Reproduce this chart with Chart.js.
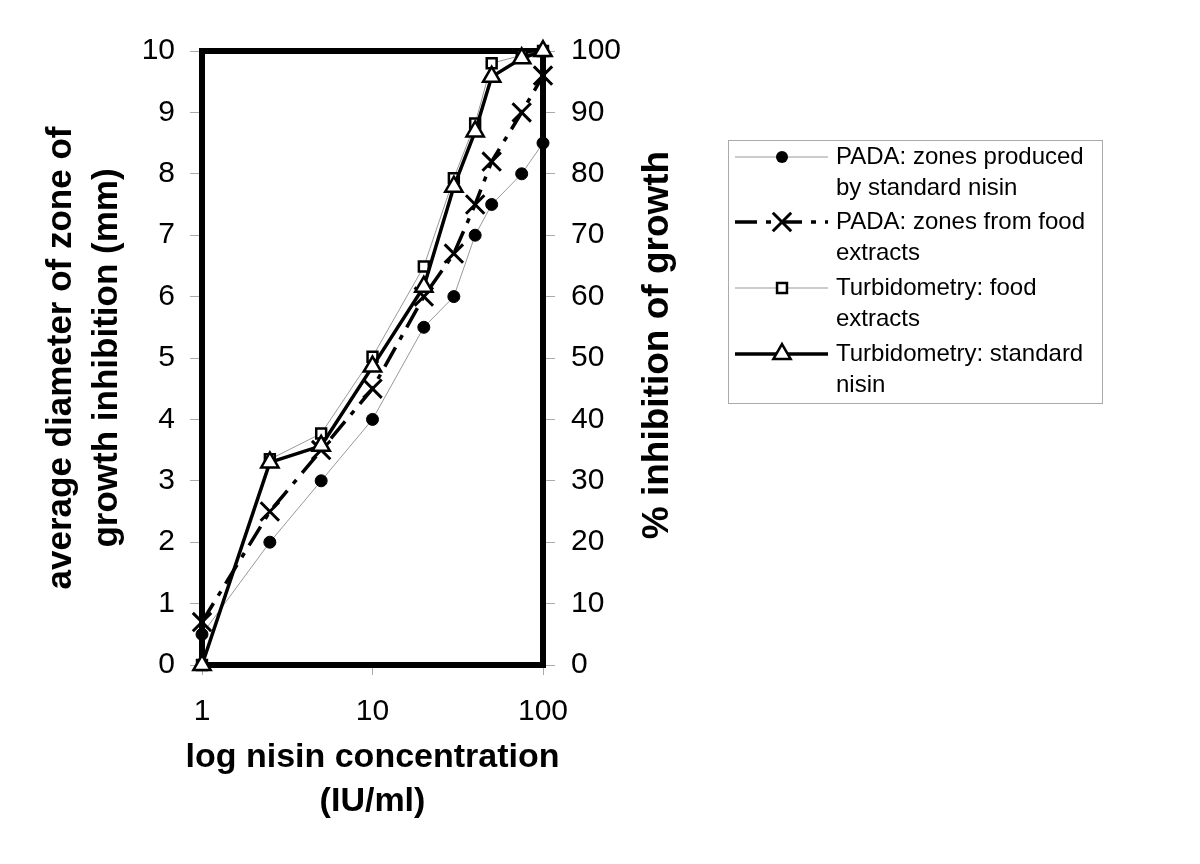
<!DOCTYPE html>
<html>
<head>
<meta charset="utf-8">
<script src="https://cdn.jsdelivr.net/npm/chart.js@4/dist/chart.umd.min.js"></script>
<style>
  html, body { margin: 0; padding: 0; background: #fff; }
  #wrap { width: 1200px; height: 864px; }
</style>
</head>
<body>
<div id="wrap"><canvas id="nisinChart" width="1200" height="864"></canvas></div>
<script>
const FONT = 'Arial, "Liberation Sans", Helvetica, sans-serif';

// nisin concentration (IU/ml)
const concentrations = [1, 2.5, 5, 10, 20, 30, 40, 50, 75, 100];
const xTickValues = [1, 10, 100];

// left axis: zone diameter (mm)
const padaStandard = [0.5, 2, 3, 4, 5.5, 6, 7, 7.5, 8, 8.5];
const padaFood = [0.7, 2.5, 3.5, 4.5, 6, 6.7, 7.5, 8.2, 9, 9.6];

// right axis: % inhibition of growth
const turbFood = [0, 33.5, 37.7, 50.2, 64.9, 79.3, 88.2, 98, 99.3, 100];
const turbStandard = [0, 33, 35.7, 48.6, 61.6, 77.9, 86.9, 95.8, 98.8, 100];

const seriesNames = [
    ['PADA: zones produced', 'by standard nisin'],
    ['PADA: zones from food', 'extracts'],
    ['Turbidometry: food', 'extracts'],
    ['Turbidometry: standard', 'nisin']
];
const xTitle = ['log nisin concentration', '(IU/ml)'];
const y2Title = '% inhibition of growth';

const toPoints = vals => vals.map((v, i) => ({ x: concentrations[i], y: v }));

const data = {
    datasets: [
        {
            label: seriesNames[0].join(' '),
            data: toPoints(padaStandard),
            yAxisID: 'y',
            borderColor: '#999',
            borderWidth: 1,
            pointStyle: 'circle',
            pointRadius: 6,
            pointBackgroundColor: '#000',
            pointBorderColor: '#000',
            pointBorderWidth: 1,
            order: 3
        },
        {
            label: seriesNames[1].join(' '),
            data: toPoints(padaFood),
            yAxisID: 'y',
            borderColor: '#000',
            borderWidth: 3.5,
            borderDash: [22, 9, 5, 9],
            pointStyle: 'crossRot',
            pointRadius: 13,
            pointBorderColor: '#000',
            pointBorderWidth: 3,
            order: 2
        },
        {
            label: seriesNames[2].join(' '),
            data: toPoints(turbFood),
            yAxisID: 'y2',
            borderColor: '#999',
            borderWidth: 1,
            pointStyle: 'rect',
            pointRadius: 7,
            pointBackgroundColor: '#fff',
            pointBorderColor: '#000',
            pointBorderWidth: 2.5,
            order: 1
        },
        {
            label: seriesNames[3].join(' '),
            data: toPoints(turbStandard),
            yAxisID: 'y2',
            borderColor: '#000',
            borderWidth: 3.5,
            pointStyle: 'triangle',
            pointRadius: 10,
            pointBackgroundColor: '#fff',
            pointBorderColor: '#000',
            pointBorderWidth: 2.5,
            order: 0
        }
    ]
};

// thick black frame round the plot area
const framePlugin = {
    id: 'frame',
    beforeDatasetsDraw(chart) {
        const { ctx, chartArea: a } = chart;
        ctx.save();
        ctx.strokeStyle = '#000';
        ctx.lineWidth = 6;
        ctx.strokeRect(a.left, a.top, a.right - a.left, a.bottom - a.top);
        ctx.restore();
    }
};

// x title (wider than the plot), right title reading bottom-to-top, boxed legend
const extrasPlugin = {
    id: 'extras',
    afterDraw(chart) {
        const ctx = chart.ctx;
        const a = chart.chartArea;
        ctx.save();
        ctx.fillStyle = '#000';
        ctx.font = 'bold 34px ' + FONT;
        ctx.textAlign = 'center';
        ctx.textBaseline = 'middle';
        const cx = (a.left + a.right) / 2;
        ctx.fillText(xTitle[0], cx, 758);
        ctx.fillText(xTitle[1], cx, 802);

        ctx.font = 'bold 37px ' + FONT;
        ctx.translate(658, 345);
        ctx.rotate(-Math.PI / 2);
        ctx.fillText(y2Title, 0, 0);
        ctx.restore();

        // legend box
        ctx.save();
        ctx.strokeStyle = '#aaa';
        ctx.lineWidth = 1;
        ctx.strokeRect(728.5, 140.5, 374, 263);
        ctx.font = '24px ' + FONT;
        ctx.textBaseline = 'middle';
        ctx.fillStyle = '#000';
        const rowY = [157, 222, 288, 354];
        chart.data.datasets.forEach((ds, i) => {
            const y = rowY[i];
            ctx.save();
            ctx.strokeStyle = ds.borderColor;
            ctx.lineWidth = ds.borderWidth;
            ctx.setLineDash(ds.borderDash || []);
            ctx.beginPath();
            ctx.moveTo(735, y);
            ctx.lineTo(828, y);
            ctx.stroke();
            ctx.restore();
            drawMarker(ctx, ds, 782, y);
            ctx.fillText(seriesNames[i][0], 836, y);
            ctx.fillText(seriesNames[i][1], 836, y + 31);
        });
        ctx.restore();
    }
};

function drawMarker(ctx, ds, x, y) {
    const r = ds.pointRadius;
    ctx.save();
    ctx.setLineDash([]);
    ctx.lineWidth = ds.pointBorderWidth;
    ctx.strokeStyle = ds.pointBorderColor;
    ctx.fillStyle = ds.pointBackgroundColor || '#fff';
    ctx.beginPath();
    if (ds.pointStyle === 'circle') {
        ctx.arc(x, y, r, 0, Math.PI * 2);
        ctx.fill();
    } else if (ds.pointStyle === 'crossRot') {
        const d = r * Math.SQRT1_2;
        ctx.moveTo(x - d, y - d); ctx.lineTo(x + d, y + d);
        ctx.moveTo(x - d, y + d); ctx.lineTo(x + d, y - d);
        ctx.stroke();
    } else if (ds.pointStyle === 'rect') {
        const s = r * Math.SQRT1_2;
        ctx.rect(x - s, y - s, 2 * s, 2 * s);
        ctx.fill(); ctx.stroke();
    } else if (ds.pointStyle === 'triangle') {
        ctx.moveTo(x, y - r);
        ctx.lineTo(x + r * 0.866, y + r * 0.5);
        ctx.lineTo(x - r * 0.866, y + r * 0.5);
        ctx.closePath();
        ctx.fill(); ctx.stroke();
    }
    ctx.restore();
}

const config = {
    type: 'line',
    data: data,
    options: {
        responsive: false,
        animation: false,
        clip: false,
        layout: { padding: { top: 51, right: 517, bottom: 0, left: 0 } },
        plugins: {
            legend: { display: false },
            tooltip: { enabled: false }
        },
        scales: {
            x: {
                type: 'logarithmic',
                min: 1,
                max: 100,
                afterBuildTicks: scale => { scale.ticks = xTickValues.map(v => ({ value: v })); },
                afterFit: scale => { scale.height = 199; },
                ticks: {
                    color: '#000',
                    font: { family: FONT, size: 30 },
                    padding: 19,
                    maxRotation: 0,
                    callback: value => String(value)
                },
                grid: { drawOnChartArea: false, drawTicks: true, tickLength: 10, color: '#aaa' },
                border: { display: false }
            },
            y: {
                position: 'left',
                min: 0,
                max: 10,
                afterFit: scale => { scale.width = 202; },
                ticks: {
                    stepSize: 1,
                    color: '#000',
                    font: { family: FONT, size: 30 },
                    padding: 15
                },
                grid: { drawOnChartArea: false, drawTicks: true, tickLength: 12, color: '#aaa' },
                border: { display: false },
                title: {
                    display: true,
                    text: ['average diameter of zone of', 'growth inhibition (mm)'],
                    color: '#000',
                    font: { family: FONT, size: 35, weight: 'bold', lineHeight: '46px' },
                    padding: { top: 38, bottom: 0 }
                }
            },
            y2: {
                position: 'right',
                min: 0,
                max: 100,
                afterFit: scale => { scale.width = 140; },
                ticks: {
                    stepSize: 10,
                    color: '#000',
                    font: { family: FONT, size: 30 },
                    padding: 16
                },
                grid: { drawOnChartArea: false, drawTicks: true, tickLength: 12, color: '#aaa' },
                border: { display: false }
            }
        }
    },
    plugins: [framePlugin, extrasPlugin]
};

const nisinChart = new Chart(document.getElementById('nisinChart').getContext('2d'), config);
</script>
</body>
</html>
